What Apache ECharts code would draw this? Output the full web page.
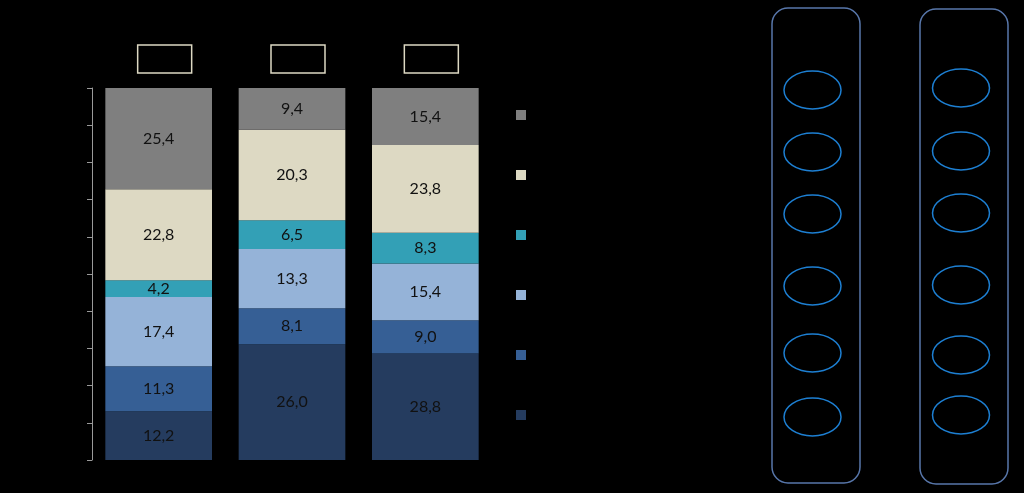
<!DOCTYPE html>
<html><head><meta charset="utf-8">
<script src="https://cdn.jsdelivr.net/npm/echarts@6/dist/echarts.min.js"></script>
<style>html,body{margin:0;padding:0;background:#000;}#c{width:1024px;height:493px;}</style>
</head><body><div id="c"></div>
<script>
var categories = ['c1', 'c2', 'c3'];
var seriesNames = ['s1', 's2', 's3', 's4', 's5', 's6'];
var s1 = [12.2, 26.0, 28.8];
var s2 = [11.3, 8.1, 9.0];
var s3 = [17.4, 13.3, 15.4];
var s4 = [4.2, 6.5, 8.3];
var s5 = [22.8, 20.3, 23.8];
var s6 = [25.4, 9.4, 15.4];
var yTicks = [0, 10, 20, 30, 40, 50, 60, 70, 80, 90, 100];

var raw = [s1, s2, s3, s4, s5, s6];
var colors = ['#253c5f', '#365f95', '#95b3d8', '#33a0b6', '#ddd9c3', '#7f7f7f'];
var totals = categories.map(function (c, i) {
  return raw.reduce(function (a, s) { return a + s[i]; }, 0);
});

var chart = echarts.init(document.getElementById('c'));
var series = raw.map(function (s, k) {
  return {
    name: seriesNames[k], type: 'bar', stack: 'total', barCategoryGap: '20%',
    xAxisIndex: 0, yAxisIndex: 0,
    itemStyle: { color: colors[k] },
    data: s.map(function (v, i) { return { value: v / totals[i] * 100, raw: v }; }),
    label: {
      show: true, position: 'inside', color: '#111', fontFamily: 'Lato', fontSize: 16,
      formatter: function (p) { return p.data.raw.toFixed(1).replace('.', ','); }
    }
  };
});

function ellipses(cx, cys) {
  return cys.map(function (cy) {
    return { type: 'ellipse', shape: { cx: cx, cy: cy, rx: 28.5, ry: 19 },
      style: { fill: 'none', stroke: '#1d7fd2', lineWidth: 1.5 } };
  });
}

chart.setOption({
  backgroundColor: '#000',
  animation: false,
  grid: [
    { left: 92, right: 532, top: 88, bottom: 33 },
    { left: 98, right: 526, top: 88, bottom: 33 }
  ],
  xAxis: [{
    type: 'category', data: categories, gridIndex: 0,
    axisLine: { show: false }, axisTick: { show: false }, axisLabel: { show: false }
  }, {
    type: 'category', data: categories, position: 'top', gridIndex: 1,
    axisLine: { show: false }, axisTick: { show: false },
    axisLabel: {
      margin: 15, formatter: function () { return ' '; }, color: '#000',
      width: 54, height: 28, borderColor: '#ddd9c3', borderWidth: 1.5, padding: 0
    }
  }],
  yAxis: [{
    type: 'value', min: yTicks[0], max: yTicks[yTicks.length - 1], interval: 10, gridIndex: 0,
    splitLine: { show: false },
    axisLine: { show: true, lineStyle: { color: '#9a9a9a', width: 1 } },
    axisTick: { show: true, length: 5, lineStyle: { color: '#9a9a9a' } },
    axisLabel: { show: false }
  }, {
    type: 'value', min: 0, max: 100, gridIndex: 1, show: false
  }],
  legend: {
    orient: 'vertical', left: 516, top: 110, padding: 0, itemWidth: 10, itemHeight: 10, itemGap: 50,
    icon: 'rect', data: seriesNames.slice().reverse(),
    formatter: function () { return ''; }, textStyle: { color: '#000', fontSize: 9 }
  },
  series: series,
  graphic: [
    { type: 'rect', shape: { x: 772, y: 8, width: 88, height: 475, r: 16 },
      style: { fill: 'none', stroke: '#5877ab', lineWidth: 1.5 } },
    { type: 'rect', shape: { x: 920, y: 9, width: 88, height: 475, r: 16 },
      style: { fill: 'none', stroke: '#5877ab', lineWidth: 1.5 } }
  ].concat(ellipses(812.5, [90, 152, 214, 286, 353, 417]))
   .concat(ellipses(961, [88, 151, 213, 285, 355, 415]))
});
</script></body></html>
